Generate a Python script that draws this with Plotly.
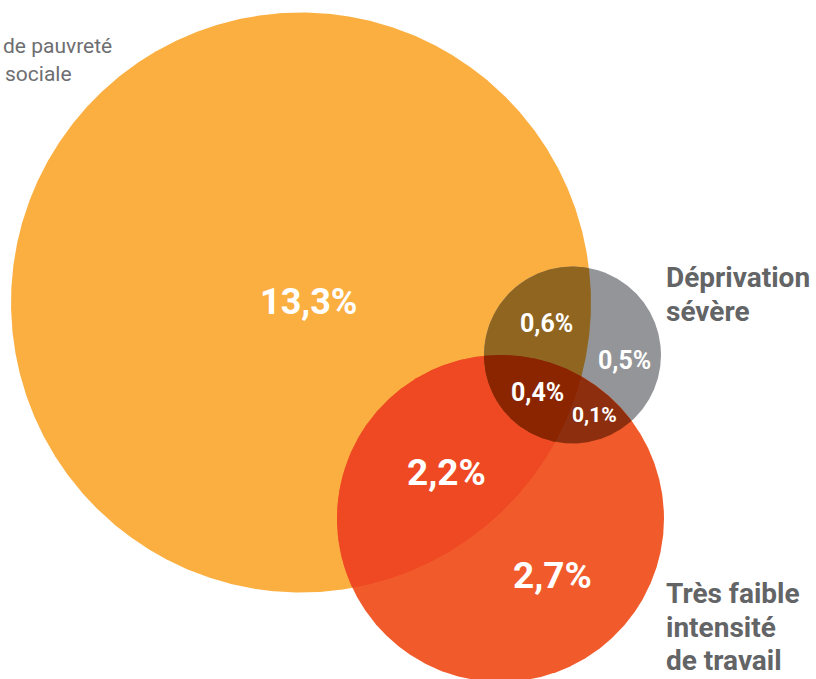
import numpy as np
import plotly.graph_objects as go

# ---- data ----
set_names = ["Risque de pauvreté ou d'exclusion sociale", "Déprivation sévère", "Très faible intensité de travail"]
region_keys = ["P", "P&W", "W", "P&D", "D", "P&D&W", "D&W"]
region_values = [13.3, 2.2, 2.7, 0.6, 0.5, 0.4, 0.1]
region_labels = ["13,3%", "2,2%", "2,7%", "0,6%", "0,5%", "0,4%", "0,1%"]

# ---- geometry (pixel-like data space) ----
centers = {"P": (301, 302.5), "D": (572.5, 355), "W": (500.5, 518.5)}
radii = {"P": 290, "D": 88.5, "W": 163.5}
label_pos = {"P": (308, 302), "P&W": (446, 472), "W": (552, 575), "P&D": (546, 323),
             "D": (624, 360), "P&D&W": (537, 392), "D&W": (594, 415)}
label_size = {"P": 36, "P&W": 37, "W": 37, "P&D": 25, "D": 25, "P&D&W": 25, "D&W": 21}
colors = {"P": "#FBAF41", "D": "#939598", "W": "#F15A2B", "P&W": "#EF4923",
          "P&D": "#8F651F", "D&W": "#8D2F0F", "P&D&W": "#8B2500"}

N = 1440
t = np.linspace(0, 2 * np.pi, N, endpoint=False)


def boundary(k):
    cx, cy = centers[k]
    r = radii[k]
    return np.c_[cx + r * np.cos(t), cy + r * np.sin(t)]


def inside(pts, k):
    cx, cy = centers[k]
    return (pts[:, 0] - cx) ** 2 + (pts[:, 1] - cy) ** 2 <= radii[k] ** 2 + 1e-6


def intersection(keys):
    pts = []
    for k in keys:
        b = boundary(k)
        m = np.ones(len(b), bool)
        for o in keys:
            if o != k:
                m &= inside(b, o)
        pts.append(b[m])
    pts = np.vstack(pts)
    c = pts.mean(axis=0)
    ang = np.arctan2(pts[:, 1] - c[1], pts[:, 0] - c[0])
    pts = pts[np.argsort(ang)]
    return pts


fig = go.Figure()


def add_poly(pts, color):
    x = np.r_[pts[:, 0], pts[0, 0]]
    y = np.r_[pts[:, 1], pts[0, 1]]
    fig.add_trace(go.Scatter(x=x, y=y, fill="toself", fillcolor=color, mode="lines",
                             line=dict(width=0, color=color), hoverinfo="skip", showlegend=False))


for k in ["P", "D", "W"]:
    add_poly(boundary(k), colors[k])
for key in ["P&W", "P&D", "D&W", "P&D&W"]:
    add_poly(intersection(key.split("&")), colors[key])

for key, lab in zip(region_keys, region_labels):
    x, y = label_pos[key]
    fig.add_annotation(x=x, y=y, text="<b>%s</b>" % lab, showarrow=False,
                       font=dict(family="Roboto", size=label_size[key], color="white"))

grey = "#636466"
for txt, y in [("Déprivation", 277), ("sévère", 311)]:
    fig.add_annotation(x=664, y=y, text="<b>%s</b>" % txt, showarrow=False, xanchor="left",
                       font=dict(family="Roboto", size=28, color=grey))
for txt, y in [("Très faible", 593), ("intensité", 627), ("de travail", 660)]:
    fig.add_annotation(x=664, y=y, text="<b>%s</b>" % txt, showarrow=False, xanchor="left",
                       font=dict(family="Roboto", size=28, color=grey))
for txt, x, y in [("de pauvreté", 114, 46), ("sociale", 74, 74)]:
    fig.add_annotation(x=x, y=y, text=txt, showarrow=False, xanchor="right",
                       font=dict(family="Roboto", size=21, color="#6D6E71"))

fig.update_xaxes(range=[0, 816], visible=False, showgrid=False, zeroline=False)
fig.update_yaxes(range=[679, 0], visible=False, showgrid=False, zeroline=False)
fig.update_layout(width=816, height=679, margin=dict(l=0, r=0, t=0, b=0),
                  plot_bgcolor="white", paper_bgcolor="white")
fig.write_html("out.html", config={"displayModeBar": False},
               post_script="document.body.style.margin='0';document.body.style.overflow='hidden';")
